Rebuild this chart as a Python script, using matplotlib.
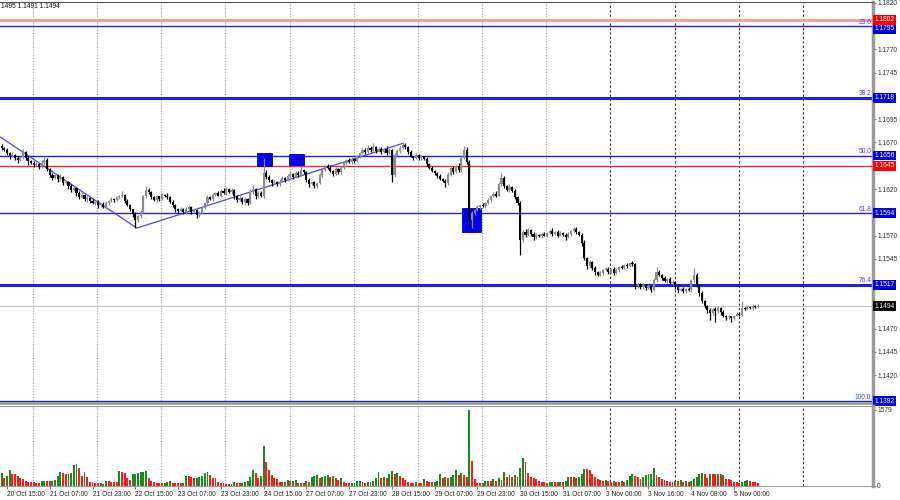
import matplotlib
matplotlib.use("Agg")
import matplotlib.pyplot as plt
import matplotlib.transforms as mtransforms
from matplotlib.patches import Rectangle

plt.rcParams["font.family"] = ["Liberation Sans", "DejaVu Sans"]

# hourly closes (first bar sits just left of "20 Oct 15:00")
first_bar = -2
first_open = 1.1666
closes = [
    1.1664, 1.1662, 1.1659, 1.1655, 1.1657, 1.1653, 1.1651, 1.1654, 1.1660, 1.1653, 1.1650, 1.1648, 1.1646, 1.1647, 1.1644, 1.1648, 1.1651, 1.1642, 1.1635, 1.1632,
    1.1635, 1.1631, 1.1633, 1.1626, 1.1628, 1.1623, 1.1619, 1.1621, 1.1616, 1.1611, 1.1614, 1.1609, 1.1610, 1.1607, 1.1605, 1.1606, 1.1603, 1.1604, 1.1601, 1.1605,
    1.1607, 1.1609, 1.1608, 1.1611, 1.1612, 1.1614, 1.1607, 1.1603, 1.1598, 1.1593, 1.1587, 1.1591, 1.1595, 1.1612, 1.1619, 1.1617, 1.1611, 1.1608, 1.1612, 1.1609,
    1.1614, 1.1613, 1.1611, 1.1606, 1.1603, 1.1598, 1.1596, 1.1599, 1.1595, 1.1598, 1.1601, 1.1595, 1.1597, 1.1592, 1.1594, 1.1600, 1.1605, 1.1611, 1.1609, 1.1614,
    1.1616, 1.1613, 1.1618, 1.1616, 1.1620, 1.1617, 1.1619, 1.1612, 1.1608, 1.1610, 1.1606, 1.1609, 1.1605, 1.1617, 1.1620, 1.1612, 1.1616, 1.1613, 1.1637, 1.1633,
    1.1630, 1.1626, 1.1628, 1.1625, 1.1628, 1.1632, 1.1630, 1.1634, 1.1636, 1.1633, 1.1637, 1.1635, 1.1640, 1.1638, 1.1630, 1.1625, 1.1627, 1.1623, 1.1626, 1.1635,
    1.1640, 1.1645, 1.1643, 1.1639, 1.1636, 1.1642, 1.1638, 1.1643, 1.1648, 1.1651, 1.1649, 1.1652, 1.1650, 1.1655, 1.1659, 1.1662, 1.1660, 1.1664, 1.1662, 1.1665,
    1.1661, 1.1663, 1.1660, 1.1663, 1.1659, 1.1662, 1.1635, 1.1657, 1.1661, 1.1664, 1.1667, 1.1665, 1.1660, 1.1655, 1.1653, 1.1657, 1.1653, 1.1655, 1.1652, 1.1647,
    1.1643, 1.1639, 1.1637, 1.1634, 1.1631, 1.1629, 1.1626, 1.1635, 1.1643, 1.1638, 1.1645, 1.1640, 1.1653, 1.1662, 1.1649, 1.1587, 1.1594, 1.1597, 1.1601, 1.1603,
    1.1602, 1.1605, 1.1608, 1.1612, 1.1615, 1.1613, 1.1625, 1.1632, 1.1623, 1.1619, 1.1622, 1.1618, 1.1611, 1.1605, 1.1565, 1.1574, 1.1571, 1.1576, 1.1572, 1.1568,
    1.1571, 1.1569, 1.1572, 1.1570, 1.1573, 1.1575, 1.1572, 1.1574, 1.1570, 1.1573, 1.1571, 1.1568, 1.1572, 1.1575, 1.1577, 1.1574, 1.1571, 1.1562, 1.1546, 1.1537,
    1.1542, 1.1535, 1.1531, 1.1528, 1.1530, 1.1533, 1.1534, 1.1531, 1.1534, 1.1530, 1.1533, 1.1536, 1.1535, 1.1538, 1.1537, 1.1540, 1.1539, 1.1516, 1.1518, 1.1515,
    1.1517, 1.1514, 1.1516, 1.1511, 1.1522, 1.1531, 1.1528, 1.1524, 1.1521, 1.1523, 1.1519, 1.1520, 1.1515, 1.1511, 1.1513, 1.1510, 1.1513, 1.1511, 1.1522, 1.1528,
    1.1517, 1.1508, 1.1500, 1.1494, 1.1490, 1.1487, 1.1491, 1.1489, 1.1492, 1.1488, 1.1484, 1.1482, 1.1483, 1.1481, 1.1484, 1.1486, 1.1485, 1.1492, 1.1491, 1.1493,
    1.1492, 1.1494, 1.1493, 1.1494,
]
upper_wick_pips = [
    2, 1, 2, 1, 3, 1, 2, 2, 3, 1, 2, 1, 2, 2, 1, 3, 5, 2, 1, 2,
    2, 1, 3, 1, 2, 1, 2, 2, 1, 2, 3, 1, 2, 1, 2, 1, 2, 1, 2, 2,
    1, 2, 1, 2, 2, 4, 1, 2, 1, 1, 2, 1, 2, 2, 4, 2, 1, 2, 2, 1,
    2, 1, 3, 1, 2, 1, 2, 2, 1, 3, 2, 1, 2, 1, 2, 2, 1, 3, 2, 2,
    1, 2, 2, 3, 2, 1, 2, 1, 2, 2, 1, 2, 1, 3, 4, 1, 2, 2, 16, 3,
    2, 1, 2, 1, 3, 2, 1, 2, 3, 1, 2, 2, 5, 2, 1, 2, 1, 2, 1, 2,
    2, 1, 2, 3, 1, 2, 1, 2, 2, 1, 2, 2, 1, 2, 1, 2, 2, 3, 2, 4,
    1, 2, 2, 1, 3, 2, 1, 2, 2, 2, 3, 2, 1, 2, 1, 2, 1, 2, 1, 2,
    1, 2, 1, 1, 2, 1, 2, 3, 2, 2, 1, 3, 2, 4, 3, 2, 2, 1, 2, 1,
    2, 1, 2, 1, 2, 3, 2, 5, 2, 1, 3, 1, 2, 1, 2, 2, 3, 2, 1, 2,
    2, 1, 2, 2, 1, 2, 3, 1, 2, 2, 1, 2, 2, 1, 2, 2, 1, 2, 3, 1,
    2, 1, 2, 1, 2, 1, 2, 2, 1, 2, 2, 1, 2, 1, 2, 2, 3, 1, 2, 1,
    2, 1, 2, 1, 2, 5, 2, 1, 2, 1, 2, 2, 1, 2, 1, 2, 1, 2, 1, 7,
    2, 1, 2, 1, 1, 2, 1, 2, 2, 1, 2, 1, 2, 1, 1, 2, 2, 8, 1, 2,
    1, 2, 1, 2,
]
lower_wick_pips = [
    2, 1, 2, 3, 1, 2, 3, 1, 2, 2, 4, 1, 2, 1, 2, 1, 2, 3, 2, 2,
    1, 3, 2, 2, 1, 3, 2, 1, 3, 2, 1, 2, 3, 2, 1, 2, 3, 2, 1, 2,
    2, 1, 2, 1, 2, 1, 2, 1, 2, 3, 9, 2, 2, 1, 2, 2, 2, 1, 2, 2,
    1, 2, 2, 1, 2, 3, 2, 1, 2, 2, 3, 2, 1, 3, 2, 1, 2, 2, 1, 2,
    2, 1, 2, 1, 2, 1, 2, 3, 2, 1, 2, 3, 2, 1, 2, 3, 2, 2, 3, 2,
    2, 3, 1, 2, 2, 1, 2, 1, 2, 2, 1, 2, 1, 2, 2, 3, 1, 2, 2, 1,
    2, 1, 2, 1, 2, 1, 2, 2, 1, 2, 1, 2, 2, 1, 2, 1, 2, 1, 2, 1,
    2, 1, 2, 1, 2, 1, 8, 2, 1, 2, 1, 2, 2, 1, 2, 1, 2, 2, 1, 2,
    2, 1, 2, 2, 1, 2, 4, 2, 1, 2, 1, 2, 2, 1, 2, 11, 9, 2, 1, 2,
    1, 2, 1, 2, 1, 2, 1, 2, 2, 1, 2, 1, 2, 2, 16, 2, 3, 1, 2, 3,
    2, 1, 2, 1, 2, 1, 2, 1, 2, 1, 2, 3, 1, 2, 1, 2, 2, 3, 2, 3,
    2, 2, 3, 2, 1, 2, 1, 2, 1, 2, 1, 2, 1, 1, 2, 1, 2, 4, 2, 3,
    2, 3, 1, 2, 1, 2, 1, 2, 1, 2, 1, 2, 2, 3, 1, 2, 2, 1, 2, 2,
    2, 3, 2, 2, 3, 8, 2, 12, 2, 3, 2, 3, 2, 4, 2, 1, 2, 1, 1, 1,
    1, 2, 1, 1,
]
volumes = [
    270, 175, 210, 325, 255, 250, 205, 170, 140, 105, 85, 85, 80, 60, 55, 100, 105, 100, 95, 110,
    120, 210, 290, 265, 240, 245, 270, 430, 450, 365, 215, 300, 185, 90, 75, 70, 55, 60, 50, 100,
    95, 90, 85, 80, 310, 295, 265, 175, 130, 250, 255, 280, 290, 295, 310, 175, 105, 85, 70, 55,
    55, 60, 80, 100, 60, 55, 55, 55, 60, 215, 210, 185, 160, 175, 180, 215, 275, 295, 230, 175,
    170, 85, 55, 55, 50, 45, 50, 80, 60, 55, 60, 85, 95, 190, 340, 275, 160, 205, 830, 500,
    335, 230, 160, 150, 85, 80, 82, 115, 105, 110, 118, 55, 70, 70, 100, 90, 195, 210, 220, 175,
    185, 215, 218, 185, 205, 175, 120, 170, 85, 60, 55, 65, 70, 95, 100, 85, 60, 80, 90, 95,
    175, 290, 175, 180, 175, 250, 310, 250, 275, 215, 175, 120, 85, 55, 55, 80, 70, 55, 140, 105,
    85, 80, 85, 95, 250, 160, 195, 175, 180, 230, 325, 220, 265, 220, 190, 1579, 520, 140, 55, 65,
    55, 100, 105, 100, 140, 105, 160, 120, 290, 195, 230, 195, 220, 195, 380, 575, 500, 265, 185, 160,
    140, 105, 90, 75, 55, 80, 85, 85, 80, 85, 80, 105, 190, 185, 190, 175, 185, 250, 360, 345,
    340, 250, 190, 155, 120, 104, 118, 104, 90, 104, 90, 83, 104, 83, 118, 200, 255, 205, 194, 153,
    187, 229, 243, 257, 381, 229, 187, 139, 118, 104, 90, 83, 104, 104, 118, 90, 104, 90, 104, 139,
    187, 257, 277, 257, 173, 257, 257, 257, 243, 257, 229, 153, 139, 118, 90, 90, 69, 90, 104, 118,
    104, 90, 90, 55,
]

time_labels = ["20 Oct 15:00", "21 Oct 07:00", "21 Oct 23:00", "22 Oct 15:00", "23 Oct 07:00",
               "23 Oct 23:00", "24 Oct 15:00", "27 Oct 07:00", "27 Oct 23:00", "28 Oct 15:00",
               "29 Oct 07:00", "29 Oct 23:00", "30 Oct 15:00", "31 Oct 07:00", "3 Nov 00:00",
               "3 Nov 16:00", "4 Nov 08:00", "5 Nov 00:00"]
bars_per_label = 16
price_ticks = [1.1820, 1.1770, 1.1745, 1.1695, 1.1670, 1.1620,
               1.1570, 1.1545, 1.1470, 1.1445, 1.1420]
fib_names = ["23.6", "38.2", "50.0", "61.8", "76.4", "100.0"]
fib_prices = [1.1795, 1.1718, 1.1656, 1.1594, 1.1517, 1.1392]
fib_widths = [1.0, 2.2, 1.0, 1.0, 2.2, 1.0]
red_prices = [1.1802, 1.1645]
last_price = 1.1494
vol_max = 1579

# zigzag and signal boxes (bar index, price)
zigzag_bars = [-2.6, 48.6, 148]
zigzag_prices = [1.1676, 1.1578, 1.1669]
signal_boxes = [(93.5, 99.1, 1.1645, 1.1659),
                (105.5, 111.1, 1.1646, 1.1658),
                (170.2, 177.3, 1.1574, 1.1600)]

PIP = 0.0001
BLUE = "#2020e8"
FS = 4.8

n = len(closes)
bars = list(range(first_bar, first_bar + n))
opens = [first_open] + closes[:-1]
highs = [max(o, c) + u * PIP for o, c, u in zip(opens, closes, upper_wick_pips)]
lows = [min(o, c) - d * PIP for o, c, d in zip(opens, closes, lower_wick_pips)]
bull = [c >= o for o, c in zip(opens, closes)]
body_bottom = [min(o, c) for o, c in zip(opens, closes)]
body_height = [max(abs(c - o), 0.00005) for o, c in zip(opens, closes)]
candle_col = ["#8c8c8c" if b else "#000000" for b in bull]
vol_col = ["#1a8a1a" if i == 0 or volumes[i] > volumes[i - 1] else "#ff1a1a"
           for i in range(n)]

fig = plt.figure(figsize=(9, 5), dpi=100)
ax = fig.add_axes([0, 1 - 403 / 500, 873 / 900, 401 / 500])
axv = fig.add_axes([0, 1 - 486 / 500, 873 / 900, 80 / 500], sharex=ax)

ax.set_xlim(-2.62, 324)
ax.set_ylim(1.1390, 1.1821)
axv.set_ylim(0, 1660)

# daily grid
for k in range(13):
    gx = 9.74 + 24 * k
    dark = gx > 220
    for a in (ax, axv):
        a.axvline(gx, color="#333333" if dark else "#a0a0a0",
                  ls=(0, (2, 2)) if dark else (0, (1, 1.5)), lw=0.8, zorder=0.5)

# levels
ax.axhline(red_prices[0], color="#f4a0a0", lw=2.2, zorder=1)
ax.axhline(red_prices[1], color="#e03030", lw=1.0, zorder=1)
for name, p, w in zip(fib_names, fib_prices, fib_widths):
    ax.axhline(p, color=BLUE, lw=w, zorder=1)
    ax.text(0.998, p + 0.00005, name, transform=ax.get_yaxis_transform(),
            ha="right", va="bottom", fontsize=FS, color="#4040ff")
ax.axhline(last_price, color="#c8c8c8", lw=0.9, zorder=1)

for x0, x1, p0, p1 in signal_boxes:
    ax.add_patch(Rectangle((x0, p0), x1 - x0, p1 - p0, fc="#0000ff",
                           ec="#0000b0", lw=0.6, zorder=1.5))
ax.plot(zigzag_bars, zigzag_prices, color="#4848f0", lw=0.9, zorder=1.6)

# candles
ax.vlines(bars, lows, highs, colors=candle_col, lw=0.9, zorder=2)
ax.bar(bars, body_height, bottom=body_bottom, width=0.8, color=candle_col,
       linewidth=0, zorder=2.2)

# volumes
axv.bar(bars, volumes, width=0.72, color=vol_col, linewidth=0, zorder=2)

# axes styling
for a in (ax, axv):
    a.spines["left"].set_visible(False)
    a.spines["right"].set_color("#9a9a9a")
    a.spines["right"].set_linewidth(2.5)
    a.yaxis.tick_right()
    a.tick_params(axis="y", length=2, width=0.6, color="#555555",
                  labelsize=FS, labelcolor="#333333", pad=1)
ax.spines["top"].set_color("#555555")
ax.spines["bottom"].set_color("#9a9a9a")
ax.spines["bottom"].set_linewidth(2)
axv.spines["top"].set_color("#9a9a9a")
axv.spines["bottom"].set_color("#9a9a9a")
axv.spines["bottom"].set_linewidth(0.8)

ax.set_yticks(price_ticks)
ax.set_yticklabels([f"{p:.4f}" for p in price_ticks])
ax.tick_params(axis="x", bottom=False, labelbottom=False)

axv.set_yticks([0, vol_max])
axv.set_yticklabels(["0", str(vol_max)])
axv.set_xticks([i * bars_per_label for i in range(len(time_labels))])
axv.set_xticklabels(time_labels)
axv.tick_params(axis="x", length=2.5, width=0.6, color="#555555",
                labelsize=FS, labelcolor="#222222", pad=1)
for lab in axv.get_xticklabels():
    lab.set_ha("left")

# price tags on the right scale (1.1795 sits just under the 1.1802 tag)
tags = ([(p, "#0000e0", 0) for p in fib_prices] + [(p, "#ff0000", 0) for p in red_prices]
        + [(last_price, "#000000", 0)])
tags[0] = (fib_prices[0], "#0000e0", -2.5)
for p, col, dy in tags:
    tr = mtransforms.offset_copy(ax.get_yaxis_transform(), fig=fig, y=dy, units="dots")
    ax.text(1.002, p, f"{p:.4f}", transform=tr,
            ha="left", va="center", fontsize=FS, color="white", clip_on=False,
            zorder=6, bbox=dict(boxstyle="square,pad=0.2", fc=col, ec="none"))

fig.text(0.001, 1 - 7 / 500, "1495 1.1491 1.1494", fontsize=FS,
         ha="left", va="center", color="#111111")

fig.savefig("out.png", dpi=100)
